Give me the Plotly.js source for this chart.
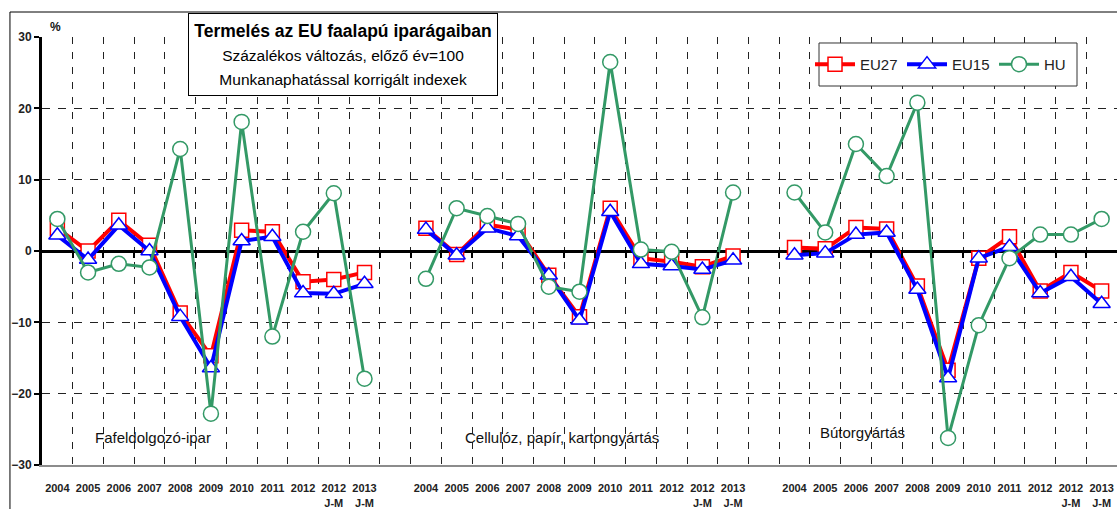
<!DOCTYPE html>
<html>
<head>
<meta charset="utf-8">
<script src="https://cdn.plot.ly/plotly-3.0.1.min.js"></script>
<style>
  html, body { margin: 0; padding: 0; background: #fff; }
  #chart { width: 1117px; height: 509px; }
</style>
</head>
<body>
<div id="chart"></div>
<script>
// categories (one block per industry)
const years = ["2004", "2005", "2006", "2007", "2008", "2009", "2010", "2011", "2012", "2012<br>J-M", "2013<br>J-M"];
const panels = ["Fafeldolgozó-ipar", "Cellulóz, papír, kartongyártás", "Bútorgyártás"];

// Fafeldolgozó-ipar
const eu27Wood = [3.2, 0.0, 4.3, 0.8, -8.7, -14.7, 2.9, 2.7, -4.3, -4.0, -3.0];
const eu15Wood = [2.2, -1.2, 3.6, 0.0, -9.2, -16.4, 1.4, 2.0, -5.9, -6.0, -4.6];
const huWood = [4.5, -3.0, -1.8, -2.3, 14.3, -22.8, 18.1, -12.0, 2.7, 8.1, -17.9];

// Cellulóz, papír, kartongyártás
const eu27Paper = [3.2, -0.5, 3.7, 3.0, -3.4, -9.2, 6.0, -1.0, -1.5, -2.2, -0.7];
const eu15Paper = [3.0, -0.6, 3.2, 2.1, -3.4, -9.7, 5.5, -1.8, -2.1, -2.6, -1.3];
const huPaper = [-3.9, 6.0, 4.9, 3.8, -5.0, -5.7, 26.5, 0.2, -0.1, -9.3, 8.2];

// Bútorgyártás
const eu27Furn = [0.5, 0.3, 3.3, 3.1, -4.9, -16.7, -1.0, 2.0, -5.6, -3.0, -5.6];
const eu15Furn = [-0.6, -0.3, 2.3, 2.6, -5.4, -17.8, -1.0, 0.6, -5.9, -3.6, -7.4];
const huFurn = [8.2, 2.6, 15.0, 10.5, 20.8, -26.2, -10.4, -1.0, 2.3, 2.3, 4.5];

var FONT = "Arial, 'Liberation Sans', sans-serif";
var step = years.length + 1; // one empty category between blocks
var nCat = panels.length * step - 1;

// x positions: block index * step + year index, with a gap (null) between blocks
var xs = [];
var tickVals = [];
var tickText = [];
for (var p = 0; p < panels.length; p++) {
  for (var i = 0; i < years.length; i++) {
    xs.push(p * step + i);
    tickVals.push(p * step + i);
    tickText.push(years[i]);
  }
  if (p < panels.length - 1) xs.push(p * step + years.length);
}
function joinBlocks(a, b, c) {
  return a.concat([null], b, [null], c);
}
var bounds = [];
for (var k = 0; k < nCat - 1; k++) bounds.push(k + 0.5);

var eu27 = {
  x: xs, y: joinBlocks(eu27Wood, eu27Paper, eu27Furn),
  mode: "lines+markers", name: "EU27", connectgaps: false,
  line: { color: "#ff0000", width: 4 },
  marker: { symbol: "square", size: 14, color: "#ffffff", line: { color: "#ff0000", width: 1.5 } }
};
var eu15 = {
  x: xs, y: joinBlocks(eu15Wood, eu15Paper, eu15Furn),
  mode: "lines+markers", name: "EU15", connectgaps: false,
  line: { color: "#0000ff", width: 4 },
  marker: { symbol: "triangle-up", size: 15, color: "#ffffff", line: { color: "#0000ff", width: 1.5 } }
};
// HU sits on the overlay axis, which also carries the small ticks on the zero line
var hu = {
  x: xs, y: joinBlocks(huWood, huPaper, huFurn), xaxis: "x2",
  mode: "lines+markers", name: "HU", connectgaps: false,
  line: { color: "#339966", width: 3 },
  marker: { symbol: "circle", size: 15, color: "#ffffff", line: { color: "#339966", width: 1.5 } }
};

var gridDash = "8px,8px";

var layout = {
  width: 1117, height: 509,
  margin: { l: 42, r: 0, t: 37, b: 44 },
  paper_bgcolor: "#ffffff", plot_bgcolor: "#ffffff",
  font: { family: FONT, color: "#111" },
  showlegend: true,
  legend: {
    orientation: "h", x: 0.8428, xanchor: "center", y: 0.936, yanchor: "middle",
    borderwidth: 0, bgcolor: "rgba(0,0,0,0)", itemwidth: 40, entrywidth: 37,
    font: { family: FONT, size: 15, color: "#222" }
  },
  xaxis: {
    range: [-0.5, nCat - 0.5], tickmode: "array", tickvals: tickVals, ticktext: tickText,
    showgrid: false, zeroline: false,
    ticks: "outside", ticklen: 12, tickcolor: "rgba(0,0,0,0)",
    showline: true, linecolor: "#8c8c8c", linewidth: 2,
    tickfont: { family: FONT, size: 11, weight: "bold", color: "#222" },
    minor: {
      tickmode: "array", tickvals: bounds, ticks: "",
      showgrid: true, gridcolor: "#222", gridwidth: 1, griddash: "7px,8px"
    }
  },
  xaxis2: {
    overlaying: "x", anchor: "free", position: 0.5, side: "bottom",
    range: [-0.5, nCat - 0.5], tickmode: "array", tickvals: bounds,
    showticklabels: false, ticks: "outside", ticklen: 6, tickwidth: 2, tickcolor: "#000",
    showgrid: false, zeroline: false, showline: false
  },
  yaxis: {
    range: [-30, 30], tickmode: "array", tickvals: [-30, -20, -10, 0, 10, 20, 30],
    showgrid: true, gridcolor: "#222", gridwidth: 1, griddash: gridDash,
    zeroline: true, zerolinecolor: "#000", zerolinewidth: 3,
    showline: true, linecolor: "#000", linewidth: 3,
    ticks: "outside", ticklen: 5, tickwidth: 2, tickcolor: "#000",
    tickfont: { family: FONT, size: 12, weight: "bold", color: "#222" }
  },
  shapes: [
    {
      type: "rect", xref: "paper", yref: "paper",
      x0: -0.0298, x1: 1.02, y0: -0.2, y1: 1.0584,
      line: { color: "#000", width: 1 }, fillcolor: "rgba(0,0,0,0)", layer: "below"
    },
    {
      type: "rect", xref: "paper", yref: "paper",
      x0: 0.7228, x1: 0.9628, y0: 0.8855, y1: 0.986,
      line: { color: "#333", width: 1 }, fillcolor: "#ffffff", layer: "above"
    }
  ],
  annotations: [
    {
      xref: "paper", yref: "paper", x: 0.28, y: 1.056, xanchor: "center", yanchor: "top",
      showarrow: false, align: "center", width: 306, height: 79,
      bgcolor: "#ffffff", bordercolor: "#000", borderwidth: 1, borderpad: 1,
      font: { family: FONT, size: 18.5, color: "#000" },
      text: "<span style='font-size:17.5px'><b>Termelés az EU faalapú iparágaiban</b></span><br>" +
        "<span style='font-size:15.5px'>Százalékos változás, előző év=100</span><br>" +
        "<span style='font-size:15.5px'>Munkanaphatással korrigált indexek</span>"
    },
    {
      xref: "paper", yref: "paper", x: 0.013, y: 1.023, xanchor: "center", yanchor: "middle",
      showarrow: false, text: "<b>%</b>", font: { family: FONT, size: 12, color: "#111" }
    },
    {
      xref: "x", yref: "y", x: 3.12, y: -26.1, showarrow: false, text: panels[0],
      font: { family: FONT, size: 15, color: "#111" }
    },
    {
      xref: "x", yref: "y", x: 16.43, y: -26.1, showarrow: false, text: panels[1],
      font: { family: FONT, size: 15, color: "#111" }
    },
    {
      xref: "x", yref: "y", x: 26.23, y: -25.4, showarrow: false, text: panels[2],
      font: { family: FONT, size: 15, color: "#111" }
    }
  ]
};

Plotly.newPlot("chart", [eu27, eu15, hu], layout, { displayModeBar: false, staticPlot: true });
</script>
</body>
</html>
